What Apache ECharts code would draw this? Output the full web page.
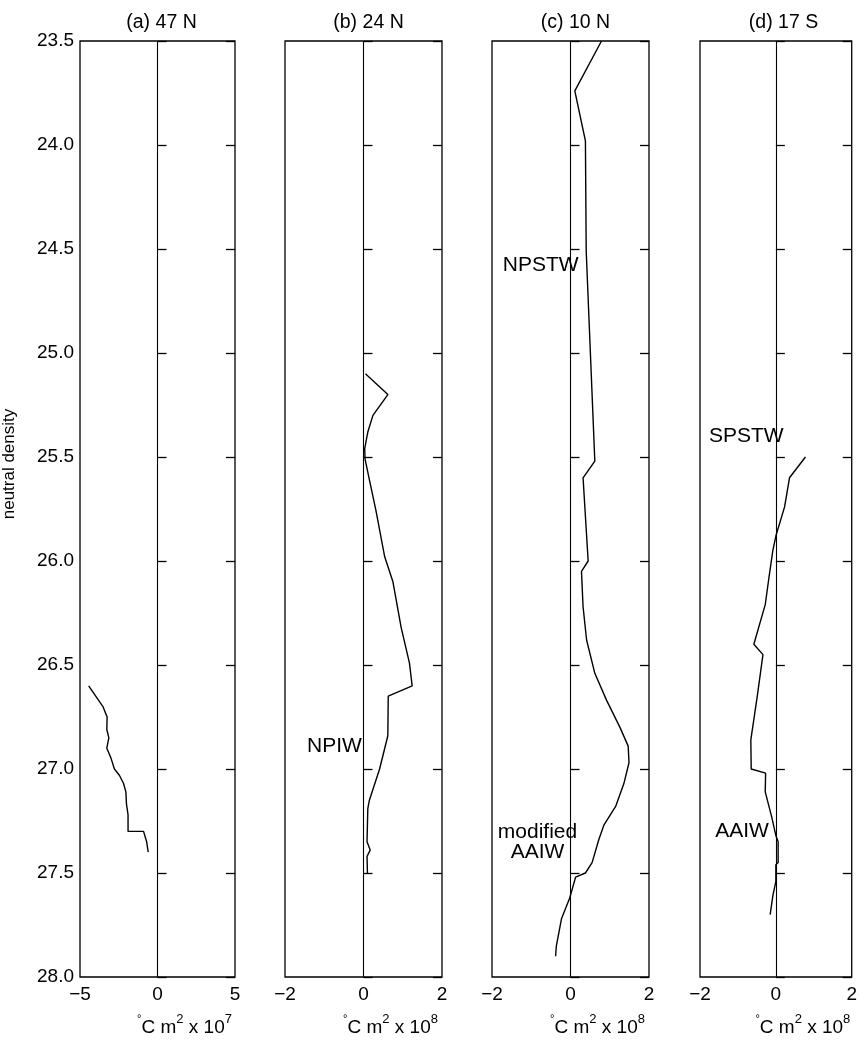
<!DOCTYPE html>
<html>
<head>
<meta charset="utf-8">
<script src="https://cdn.jsdelivr.net/npm/echarts@6/dist/echarts.min.js"></script>
<style>
  html, body { margin: 0; padding: 0; background: #fff; }
  #chart { width: 860px; height: 1042px; }
</style>
</head>
<body>
<div id="chart"></div>
<script>
// Panel titles
const panelTitles = ['(a) 47 N', '(b) 24 N', '(c) 10 N', '(d) 17 S'];
// Exponent of the x-axis unit for each panel
const unitExponents = ['7', '8', '8', '8'];
// x-axis ranges: [min, max, interval]
const xRanges = [[-5, 5, 5], [-2, 2, 2], [-2, 2, 2], [-2, 2, 2]];
// Neutral density axis
const densityTicks = [23.5, 24.0, 24.5, 25.0, 25.5, 26.0, 26.5, 27.0, 27.5, 28.0];

// (a) 47 N, units 1e7
const densA = [26.60, 26.70, 26.75, 26.81, 26.85, 26.90, 26.95, 27.00, 27.03, 27.07, 27.11, 27.17, 27.22, 27.30, 27.30, 27.35, 27.40];
const valA  = [-4.44, -3.52, -3.25, -3.27, -3.14, -3.27, -2.99, -2.78, -2.46, -2.19, -2.04, -2.00, -1.90, -1.90, -0.90, -0.70, -0.60];

// (b) 24 N, units 1e8
const densB = [25.10, 25.20, 25.30, 25.38, 25.46, 25.51, 25.60, 25.76, 25.98, 26.10, 26.32, 26.49, 26.60, 26.65, 26.84, 27.00, 27.15, 27.19, 27.35, 27.39, 27.42, 27.50];
const valB  = [0.05, 0.62, 0.24, 0.11, 0.03, 0.04, 0.14, 0.32, 0.54, 0.75, 0.96, 1.17, 1.24, 0.63, 0.62, 0.41, 0.15, 0.11, 0.09, 0.17, 0.09, 0.10];

// (c) 10 N, units 1e8
const densC = [23.50, 23.74, 23.98, 24.51, 25.52, 25.60, 26.00, 26.05, 26.22, 26.38, 26.54, 26.67, 26.80, 26.89, 26.97, 27.07, 27.18, 27.27, 27.34, 27.45, 27.50, 27.52, 27.62, 27.72, 27.85, 27.90];
const valC  = [0.79, 0.11, 0.38, 0.40, 0.62, 0.32, 0.45, 0.28, 0.32, 0.41, 0.62, 0.92, 1.26, 1.47, 1.49, 1.36, 1.15, 0.85, 0.72, 0.55, 0.38, 0.13, -0.02, -0.23, -0.36, -0.38];

// (d) 17 S, units 1e8
const densD = [25.50, 25.60, 25.74, 25.88, 25.95, 26.09, 26.21, 26.40, 26.45, 26.65, 26.86, 27.00, 27.02, 27.11, 27.23, 27.32, 27.35, 27.45, 27.46, 27.54, 27.61, 27.70];
const valD  = [0.78, 0.36, 0.23, 0.00, -0.08, -0.19, -0.28, -0.58, -0.34, -0.49, -0.66, -0.65, -0.27, -0.28, -0.11, 0.00, 0.06, 0.06, 0.00, 0.00, -0.08, -0.15];

// Water-mass annotations: panel index, text, value, density (text centre)
const noteText  = ['NPIW', 'NPSTW', 'modified\nAAIW', 'SPSTW', 'AAIW'];
const notePanel = [1, 2, 2, 3, 3];
const noteVal   = [-0.74, -0.76, -0.84, -0.78, -0.89];
const noteDens  = [26.89, 24.58, 27.35, 25.40, 27.30];

const profileVals = [valA, valB, valC, valD];
const profileDens = [densA, densB, densC, densD];

const FONT = 'Liberation Sans, Arial, Helvetica, sans-serif';
const gridLeft = [78, 285, 492, 700];
const gridWidth = 157;
const gridTop = 41;
const gridHeight = 941;

const minus = v => String(v).replace('-', '\u2212');

const grids = [], xAxes = [], yAxes = [], series = [], titles = [];

for (let i = 0; i < 4; i++) {
  grids.push({
    left: gridLeft[i], top: gridTop, width: gridWidth, height: gridHeight,
    show: true, borderColor: '#000', borderWidth: 1.3, backgroundColor: 'transparent'
  });
  titles.push({
    text: panelTitles[i],
    left: gridLeft[i] + gridWidth / 2, top: 8, textAlign: 'center',
    textStyle: { fontFamily: FONT, fontSize: 19.5, fontWeight: 'normal', color: '#000' }
  });
  xAxes.push({
    type: 'value', gridIndex: i,
    min: xRanges[i][0], max: xRanges[i][1], interval: xRanges[i][2],
    axisLine: { show: false }, axisTick: { show: false }, splitLine: { show: false },
    axisLabel: { color: '#000', fontFamily: FONT, fontSize: 19, margin: 8, formatter: minus },
    name: '{deg|°}{t|C m}{sup|2}{t| x 10}{sup|' + unitExponents[i] + '}',
    nameLocation: 'middle', nameGap: 36,
    nameTextStyle: {
      padding: [0, 0, 0, 54],
      rich: {
        t: { fontFamily: FONT, fontSize: 19, color: '#000', verticalAlign: 'bottom', lineHeight: 24 },
        sup: { fontFamily: FONT, fontSize: 13, color: '#000', verticalAlign: 'top', lineHeight: 24 },
        deg: { fontFamily: FONT, fontSize: 11, color: '#000', verticalAlign: 'top', lineHeight: 24 }
      }
    }
  });
  // left density axis
  yAxes.push({
    type: 'value', gridIndex: i, inverse: true, position: 'left',
    min: densityTicks[0], max: densityTicks[densityTicks.length - 1], interval: 0.5,
    axisLine: { show: false }, splitLine: { show: false },
    axisTick: { show: true, inside: true, length: 9, lineStyle: { color: '#000', width: 1.3 } },
    axisLabel: {
      show: i === 0, color: '#000', fontFamily: FONT, fontSize: 19, margin: 6,
      formatter: v => v.toFixed(1)
    },
    name: i === 0 ? 'neutral density' : '',
    nameLocation: 'middle', nameRotate: 90, nameGap: 62,
    nameTextStyle: { fontFamily: FONT, fontSize: 17, color: '#000', padding: [0, 0, 0, 90] }
  });
  // right-side ticks
  yAxes.push({
    type: 'value', gridIndex: i, inverse: true, position: 'right',
    min: densityTicks[0], max: densityTicks[densityTicks.length - 1], interval: 0.5,
    axisLine: { show: false }, splitLine: { show: false },
    axisTick: { show: true, inside: true, length: 9, lineStyle: { color: '#000', width: 1.3 } },
    axisLabel: { show: false }
  });

  const data = profileVals[i].map((v, k) => [v, profileDens[i][k]]);
  series.push({
    type: 'line', xAxisIndex: i, yAxisIndex: 2 * i,
    data: data, showSymbol: false, symbol: 'none',
    lineStyle: { color: '#000', width: 1.4 },
    silent: true,
    markLine: {
      silent: true, symbol: 'none', label: { show: false },
      lineStyle: { color: '#000', width: 1.1, type: 'solid' },
      data: [{ xAxis: 0 }]
    }
  });
}

// water-mass annotations
noteText.forEach((txt, k) => {
  const p = notePanel[k];
  series.push({
    type: 'scatter', xAxisIndex: p, yAxisIndex: 2 * p,
    symbolSize: 0, silent: true,
    itemStyle: { opacity: 1 },
    data: [[noteVal[k], noteDens[k]]],
    label: {
      show: true, position: 'inside', formatter: txt, opacity: 1,
      fontFamily: FONT, fontSize: 21, color: '#000', lineHeight: 20, align: 'center',
      textBorderWidth: 0, textBorderColor: 'transparent'
    }
  });
});

const chart = echarts.init(document.getElementById('chart'), null, { renderer: 'canvas' });
chart.setOption({
  animation: false,
  backgroundColor: '#fff',
  title: titles,
  grid: grids,
  xAxis: xAxes,
  yAxis: yAxes,
  series: series
});
</script>
</body>
</html>
